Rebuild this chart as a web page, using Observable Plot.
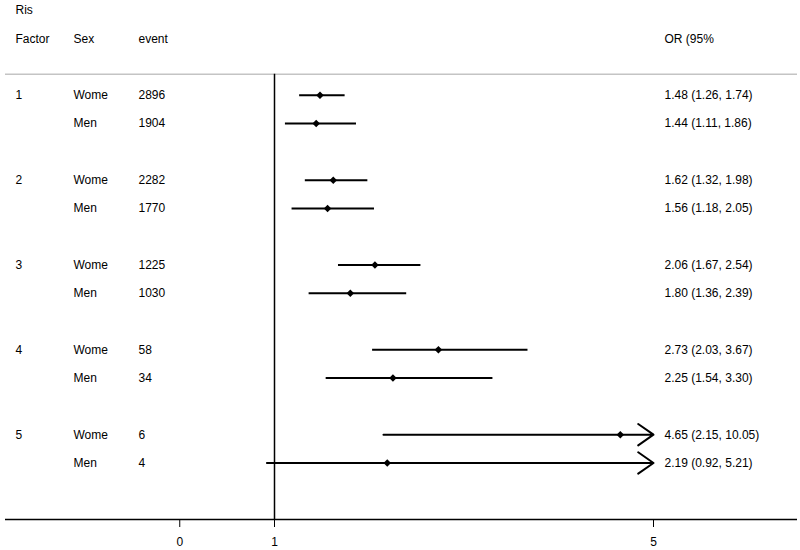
<!DOCTYPE html>
<html>
<head>
<meta charset="utf-8">
<script src="https://cdn.jsdelivr.net/npm/d3@7"></script>
<script src="https://cdn.jsdelivr.net/npm/@observablehq/plot@0.6"></script>
<style>
  html, body { margin: 0; padding: 0; background: #fff; }
  svg { display: block; }
</style>
</head>
<body>
<div id="chart"></div>
<script>
// ---- data ----
const factors = [1, 1, 2, 2, 3, 3, 4, 4, 5, 5];
const sexes = ["Wome", "Men", "Wome", "Men", "Wome", "Men", "Wome", "Men", "Wome", "Men"];
const events = [2896, 1904, 2282, 1770, 1225, 1030, 58, 34, 6, 4];
const ors = [1.48, 1.44, 1.62, 1.56, 2.06, 1.80, 2.73, 2.25, 4.65, 2.19];
const lows = [1.26, 1.11, 1.32, 1.18, 1.67, 1.36, 2.03, 1.54, 2.15, 0.92];
const highs = [1.74, 1.86, 1.98, 2.05, 2.54, 2.39, 3.67, 3.30, 10.05, 5.21];
const xTicks = [0, 1, 5];
const headers = { top: "Ris", factor: "Factor", sex: "Sex", event: "event", or: "OR (95%" };

// ---- table built from the arrays ----
const xMax = 5;
const rows = factors.map((f, i) => {
  const within = i > 0 && factors[i - 1] === f ? 1 : 0;
  return {
    row: (f - 1) * 3 + within,
    factorLabel: within ? "" : String(f),
    sex: sexes[i],
    event: String(events[i]),
    or: ors[i],
    lo: lows[i],
    hi: highs[i],
    hiClip: Math.min(highs[i], xMax),
    label: `${ors[i].toFixed(2)} (${lows[i].toFixed(2)}, ${highs[i].toFixed(2)})`
  };
});
const inRange = rows.filter(d => d.hi <= xMax);
const outRange = rows.filter(d => d.hi > xMax);

const sepRow = -0.75, headRow = -2, topRow = -3, baseRow = 15;
const font = "'Liberation Sans', Arial, Helvetica, sans-serif";

const chart = Plot.plot({
  width: 800,
  height: 550,
  marginLeft: 5,
  marginRight: 3,
  marginTop: 0,
  marginBottom: 31,
  style: { fontFamily: font, fontSize: "12px", color: "#000", background: "#fff" },
  x: { domain: [0, xMax], range: [179.25, 653], axis: null },
  y: { domain: [topRow, baseRow], range: [10, 519], axis: null },
  marks: [
    // separator and baseline
    Plot.ruleY([sepRow], { stroke: "#c4c4c4", strokeWidth: 1.5 }),
    Plot.ruleY([baseRow], { stroke: "#000", strokeWidth: 1.5 }),
    Plot.ruleX([1], { y1: sepRow, y2: baseRow, stroke: "#000", strokeWidth: 1.5 }),
    Plot.axisX({
      ticks: xTicks, tickFormat: d => String(d), tickSize: 8, tickPadding: 10,
      anchor: "bottom", fontSize: 12, stroke: "#000", strokeWidth: 1
    }),
    // headers
    Plot.text([headers.top], { frameAnchor: "left", dx: 10, y: topRow, text: d => d, textAnchor: "start", fill: "#000" }),
    Plot.text([headers.factor], { frameAnchor: "left", dx: 10, y: headRow, text: d => d, textAnchor: "start", fill: "#000" }),
    Plot.text([headers.sex], { frameAnchor: "left", dx: 68, y: headRow, text: d => d, textAnchor: "start", fill: "#000" }),
    Plot.text([headers.event], { frameAnchor: "left", dx: 133, y: headRow, text: d => d, textAnchor: "start", fill: "#000" }),
    Plot.text([headers.or], { x: () => xMax, dx: 11, y: headRow, text: d => d, textAnchor: "start", fill: "#000" }),
    // table columns
    Plot.text(rows, { frameAnchor: "left", dx: 10, y: "row", text: "factorLabel", textAnchor: "start", fill: "#000" }),
    Plot.text(rows, { frameAnchor: "left", dx: 68, y: "row", text: "sex", textAnchor: "start", fill: "#000" }),
    Plot.text(rows, { frameAnchor: "left", dx: 133, y: "row", text: "event", textAnchor: "start", fill: "#000" }),
    Plot.text(rows, { x: () => xMax, dx: 11, y: "row", text: "label", textAnchor: "start", fill: "#000" }),
    // confidence intervals
    Plot.link(inRange, { x1: "lo", x2: "hi", y1: "row", y2: "row", stroke: "#000", strokeWidth: 2 }),
    Plot.arrow(outRange, {
      x1: "lo", x2: "hiClip", y1: "row", y2: "row", stroke: "#000", strokeWidth: 2,
      headLength: 14, headAngle: 70, bend: 0
    }),
    // point estimates
    Plot.dot(rows, { x: "or", y: "row", symbol: "square", rotate: 45, r: 3, fill: "#000", stroke: "none" })
  ]
});
document.getElementById("chart").appendChild(chart);
</script>
</body>
</html>
